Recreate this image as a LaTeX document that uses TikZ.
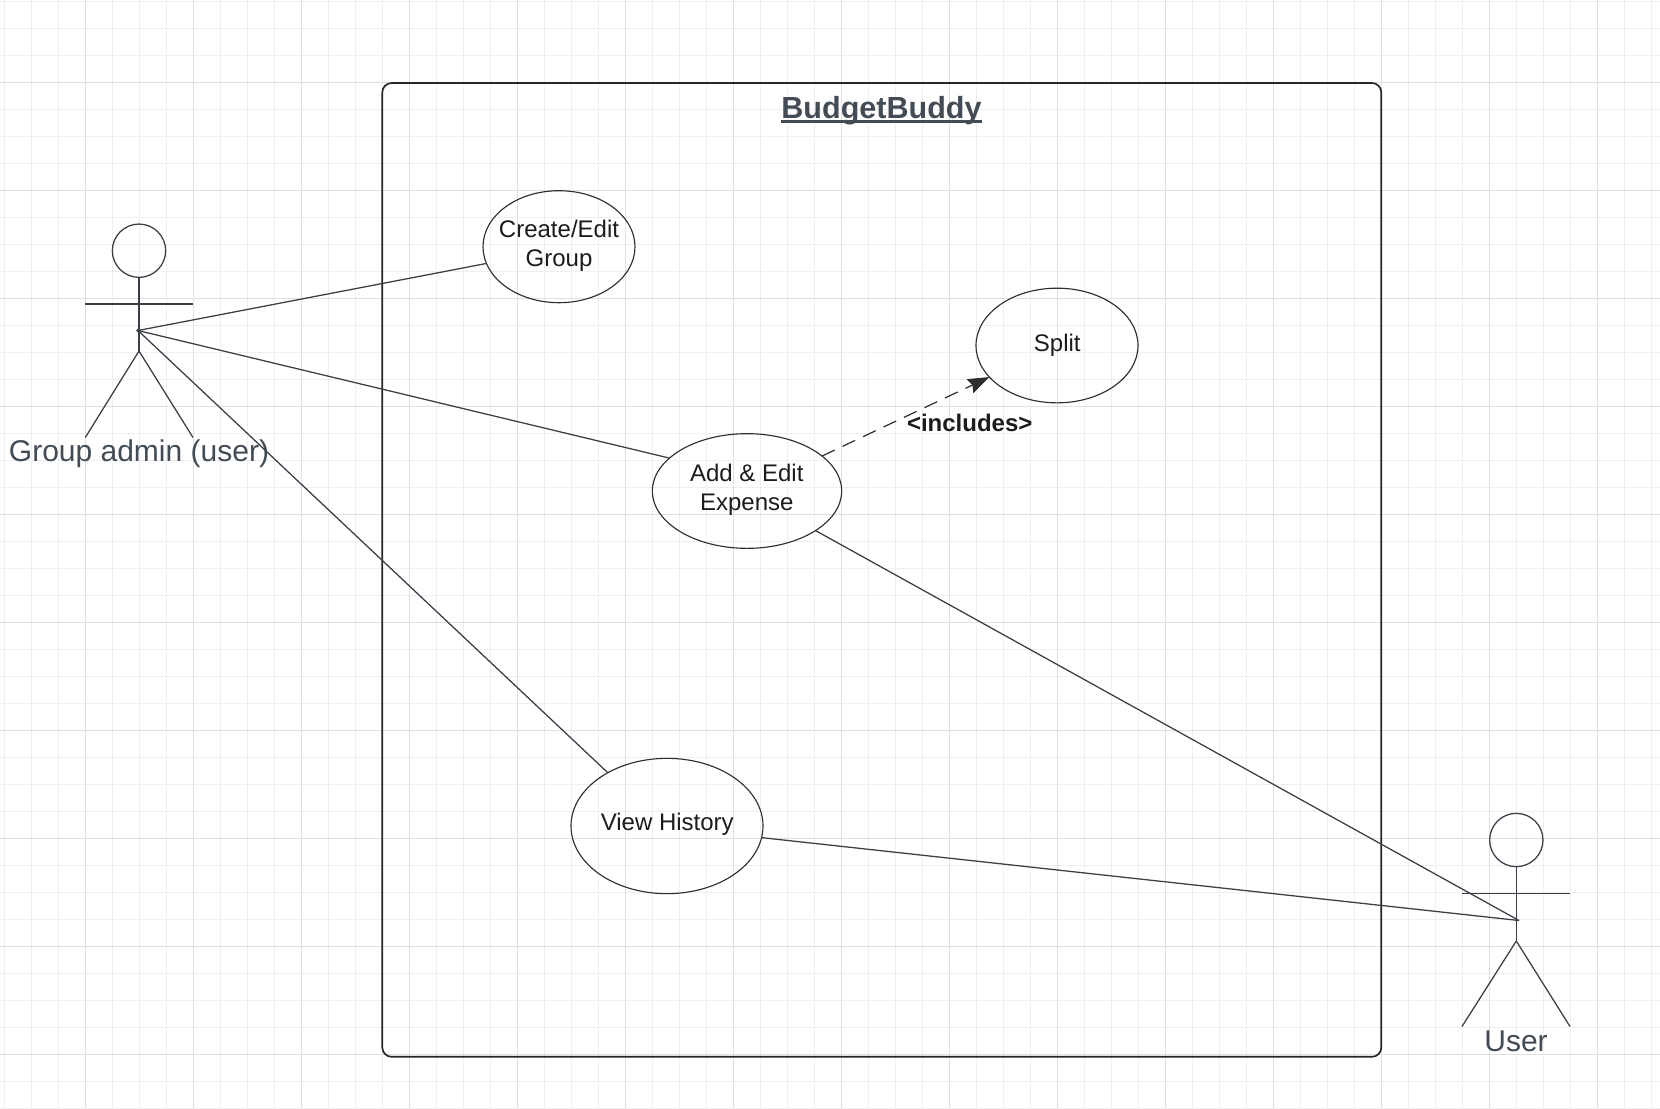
\documentclass[tikz,border=0pt]{standalone}
\usepackage{fontspec}
\setmainfont{Liberation Sans}
\usetikzlibrary{shapes.geometric,arrows.meta}
\definecolor{gridmaj}{HTML}{E0E0E0}
\definecolor{gridmin}{HTML}{EFEFEF}
\definecolor{inkline}{HTML}{3A3F47}
\definecolor{ovalink}{HTML}{2E2E2E}
\definecolor{labelink}{HTML}{434B55}
\definecolor{caseink}{HTML}{1C1C1C}
\tikzset{
  usecase/.style={draw=ovalink,line width=0.85pt,ellipse,inner sep=0pt,outer sep=0pt},
  casetext/.style={anchor=base,text=caseink,font=\fontsize{18}{21.75}\selectfont,inner sep=0pt,align=center},
  actorlabel/.style={anchor=base,text=labelink,font=\fontsize{22.5}{26}\selectfont,inner sep=0pt},
  actorline/.style={draw=inkline,line width=0.95pt},
  actorhead/.style={draw=inkline,line width=0.95pt,circle,minimum size=40pt,inner sep=0pt,outer sep=0pt},
  assoc/.style={draw=inkline,line width=0.95pt},
  includeline/.style={draw=ovalink,line width=0.9pt,dash pattern=on 10.5pt off 6.5pt,
     -{Stealth[length=16pt,width=11.5pt,inset=2pt,fill=ovalink]}},
}
\begin{document}
\begin{tikzpicture}[x=0.75pt,y=-0.75pt]
\useasboundingbox (0,0) rectangle (1660,1108);
\fill[white] (0,0) rectangle (1660,1108);
% grid
\foreach \k in {0,...,61} \draw[gridmin,line width=0.8pt] ({4.5+27*\k},0) -- ({4.5+27*\k},1108);
\foreach \k in {0,...,41} \draw[gridmin,line width=0.8pt] (0,{1.3+27*\k}) -- (1660,{1.3+27*\k});
\foreach \k in {0,...,15} \draw[gridmaj,line width=0.8pt] ({85.5+108*\k},0) -- ({85.5+108*\k},1108);
\foreach \k in {-1,0,...,9} \draw[gridmaj,line width=0.8pt] (0,{82.3+108*\k}) -- (1660,{82.3+108*\k});
% system frame
\node[draw=black!85,line width=1.25pt,rounded corners=7pt,minimum width=749.25pt,minimum height=730.3pt,inner sep=0pt,outer sep=0pt] (frame) at (881.8,569.9) {};
\node[anchor=base,inner sep=0pt,text=labelink,font=\fontsize{22.9}{27}\selectfont\bfseries] (title) at (881.5,118) {BudgetBuddy};
\draw[labelink,line width=2pt] ([yshift=-2.5pt]title.base west) -- ([yshift=-2.5pt]title.base east);
% use cases
\node[usecase,minimum width=114pt,minimum height=84pt] (create) at (559,246.7) {};
\node[usecase,minimum width=121.5pt,minimum height=86pt] (split) at (1057,345.5) {};
\node[usecase,minimum width=142pt,minimum height=86pt] (expense) at (747,491) {};
\node[usecase,minimum width=144pt,minimum height=101.5pt] (history) at (667,826) {};
\node[casetext] (createtext) at (559,266.5) {Create/Edit\\Group};
\node[casetext] (splittext) at (1057.3,351.5) {Split};
\node[casetext] (expensetext) at (746.8,510.7) {Add \& Edit\\Expense};
\node[casetext] (historytext) at (667.3,830.5) {View History};
\node[anchor=base,inner sep=0pt,text=caseink,font=\fontsize{18}{21}\selectfont\bfseries] (includes) at (969.7,431) {<includes>};
% actor: group admin
\node[actorhead] (adminhead) at (139,250.7) {};
\coordinate (adminhip) at (139,351);
\coordinate (adminhand) at (138,330.5);
\coordinate (adminlarm) at (85.3,304);
\coordinate (adminrarm) at (193,304);
\coordinate (adminlfoot) at (85.3,437.5);
\coordinate (adminrfoot) at (193,437.5);
\draw[actorline] (adminhead.south) -- (adminhip);
\draw[actorline] (adminlarm) -- (adminrarm);
\draw[actorline] (adminlfoot) -- (adminhip) -- (adminrfoot);
\fill[inkline] (adminhand) circle (1.8);
\node[actorlabel] (adminlabel) at (139,461) {Group admin (user)};
% actor: user
\node[actorhead] (userhead) at (1516.3,840) {};
\coordinate (userhip) at (1516.3,941);
\coordinate (userhand) at (1519,920.5);
\coordinate (userlarm) at (1462,893.7);
\coordinate (userrarm) at (1570,893.7);
\coordinate (userlfoot) at (1462,1026.5);
\coordinate (userrfoot) at (1570,1026.5);
\draw[actorline] (userhead.south) -- (userhip);
\draw[actorline] (userlarm) -- (userrarm);
\draw[actorline] (userlfoot) -- (userhip) -- (userrfoot);
\node[actorlabel] (userlabel) at (1516,1051) {User};
% connectors
\draw[assoc] (adminhand) -- (create.193.4);
\draw[assoc] (adminhand) -- (expense.157.1);
\draw[assoc] (adminhand) -- (history.138.1);
\draw[assoc] (expense.-30.3) -- (userhand);
\draw[assoc] (history.-7.5) -- (userhand);
\draw[includeline] (expense.25.7) -- (split.205.2);
\end{tikzpicture}
\end{document}
